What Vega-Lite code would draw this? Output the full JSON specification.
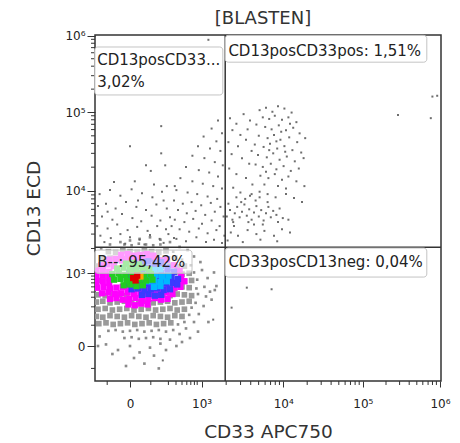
{
"$schema": "https://vega.github.io/schema/vega-lite/v6.json",
"width": 346, "height": 346,
"autosize": {"type": "none"},
"padding": {"left": 95, "top": 35, "right": 19, "bottom": 62},
"background": "white",
"title": {"text": "[BLASTEN]", "font": "DejaVu Sans", "fontSize": 18, "fontWeight": "normal", "color": "#333", "anchor": "middle", "baseline": "alphabetic", "offset": 9, "dx": -5, "dy": 21},
"config": {"view": {"stroke": "#333", "strokeWidth": 1.5}, "font": "DejaVu Sans"},
"datasets": {
"cells": [
{"cd33":-0.07,"cd13":0.10,"pop":"edge"},{"cd33":0.02,"cd13":0.11,"pop":"edge"},{"cd33":0.11,"cd13":0.09,"pop":"edge"},{"cd33":0.20,"cd13":0.10,"pop":"edge"},{"cd33":0.29,"cd13":0.11,"pop":"edge"},{"cd33":0.38,"cd13":0.09,"pop":"edge"},
{"cd33":-0.27,"cd13":0.19,"pop":"edge"},{"cd33":-0.18,"cd13":0.20,"pop":"edge"},{"cd33":-0.09,"cd13":0.18,"pop":"edge"},{"cd33":0.00,"cd13":0.19,"pop":"edge"},{"cd33":0.09,"cd13":0.20,"pop":"edge"},{"cd33":0.18,"cd13":0.18,"pop":"edge"},{"cd33":0.27,"cd13":0.19,"pop":"edge"},{"cd33":0.36,"cd13":0.20,"pop":"edge"},{"cd33":0.45,"cd13":0.18,"pop":"edge"},{"cd33":0.54,"cd13":0.20,"pop":"edge"},
{"cd33":-0.39,"cd13":0.28,"pop":"cloud"},{"cd33":-0.30,"cd13":0.29,"pop":"cloud"},{"cd33":-0.21,"cd13":0.27,"pop":"cloud"},{"cd33":-0.12,"cd13":0.28,"pop":"cloud"},{"cd33":-0.03,"cd13":0.29,"pop":"cloud"},{"cd33":0.06,"cd13":0.27,"pop":"cloud"},{"cd33":0.15,"cd13":0.28,"pop":"cloud"},{"cd33":0.24,"cd13":0.29,"pop":"cloud"},{"cd33":0.33,"cd13":0.27,"pop":"cloud"},{"cd33":0.42,"cd13":0.28,"pop":"cloud"},{"cd33":0.51,"cd13":0.29,"pop":"cloud"},{"cd33":0.60,"cd13":0.27,"pop":"edge"},{"cd33":0.68,"cd13":0.30,"pop":"edge"},
{"cd33":-0.42,"cd13":0.37,"pop":"cloud"},{"cd33":-0.34,"cd13":0.36,"pop":"cloud"},{"cd33":-0.25,"cd13":0.38,"pop":"cloud"},{"cd33":-0.16,"cd13":0.37,"pop":"cloud"},{"cd33":-0.07,"cd13":0.36,"pop":"cloud"},{"cd33":0.02,"cd13":0.38,"pop":"cloud"},{"cd33":0.11,"cd13":0.37,"pop":"cloud"},{"cd33":0.20,"cd13":0.36,"pop":"cloud"},{"cd33":0.29,"cd13":0.38,"pop":"cloud"},{"cd33":0.38,"cd13":0.37,"pop":"cloud"},{"cd33":0.47,"cd13":0.36,"pop":"cloud"},{"cd33":0.56,"cd13":0.38,"pop":"cloud"},{"cd33":0.65,"cd13":0.37,"pop":"cloud"},{"cd33":0.74,"cd13":0.39,"pop":"edge"},
{"cd33":-0.40,"cd13":0.46,"pop":"cloud"},{"cd33":-0.31,"cd13":0.47,"pop":"cloud"},{"cd33":-0.22,"cd13":0.45,"pop":"cloud"},{"cd33":-0.13,"cd13":0.46,"pop":"cloud"},{"cd33":-0.04,"cd13":0.47,"pop":"cloud"},{"cd33":0.05,"cd13":0.45,"pop":"cloud"},{"cd33":0.14,"cd13":0.46,"pop":"cloud"},{"cd33":0.23,"cd13":0.47,"pop":"cloud"},{"cd33":0.32,"cd13":0.45,"pop":"cloud"},{"cd33":0.41,"cd13":0.46,"pop":"cloud"},{"cd33":0.50,"cd13":0.47,"pop":"cloud"},{"cd33":0.59,"cd13":0.45,"pop":"cloud"},{"cd33":0.68,"cd13":0.46,"pop":"cloud"},{"cd33":0.77,"cd13":0.48,"pop":"edge"},
{"cd33":-0.42,"cd13":0.55,"pop":"cloud"},{"cd33":-0.34,"cd13":0.56,"pop":"cloud"},{"cd33":-0.25,"cd13":0.54,"pop":"cloud"},{"cd33":-0.16,"cd13":0.55,"pop":"cloud"},{"cd33":-0.07,"cd13":0.56,"pop":"cloud"},{"cd33":0.02,"cd13":0.54,"pop":"cloud"},{"cd33":0.11,"cd13":0.55,"pop":"cloud"},{"cd33":0.20,"cd13":0.56,"pop":"cloud"},{"cd33":0.29,"cd13":0.54,"pop":"cloud"},{"cd33":0.38,"cd13":0.55,"pop":"cloud"},{"cd33":0.47,"cd13":0.56,"pop":"cloud"},{"cd33":0.56,"cd13":0.54,"pop":"cloud"},{"cd33":0.65,"cd13":0.55,"pop":"cloud"},{"cd33":0.74,"cd13":0.56,"pop":"cloud"},{"cd33":0.82,"cd13":0.54,"pop":"edge"},
{"cd33":-0.40,"cd13":0.64,"pop":"cloud"},{"cd33":-0.31,"cd13":0.63,"pop":"cloud"},{"cd33":-0.22,"cd13":0.65,"pop":"cloud"},{"cd33":-0.13,"cd13":0.64,"pop":"cloud"},{"cd33":-0.04,"cd13":0.63,"pop":"cloud"},{"cd33":0.05,"cd13":0.65,"pop":"cloud"},{"cd33":0.14,"cd13":0.64,"pop":"cloud"},{"cd33":0.23,"cd13":0.63,"pop":"cloud"},{"cd33":0.32,"cd13":0.65,"pop":"cloud"},{"cd33":0.41,"cd13":0.64,"pop":"cloud"},{"cd33":0.50,"cd13":0.63,"pop":"cloud"},{"cd33":0.59,"cd13":0.65,"pop":"cloud"},{"cd33":0.68,"cd13":0.64,"pop":"cloud"},{"cd33":0.77,"cd13":0.63,"pop":"cloud"},{"cd33":0.85,"cd13":0.65,"pop":"edge"},
{"cd33":-0.42,"cd13":0.73,"pop":"cloud"},{"cd33":0.56,"cd13":0.72,"pop":"cloud"},{"cd33":0.65,"cd13":0.74,"pop":"cloud"},{"cd33":0.74,"cd13":0.73,"pop":"cloud"},{"cd33":0.83,"cd13":0.72,"pop":"edge"},
{"cd33":-0.40,"cd13":0.82,"pop":"cloud"},{"cd33":0.59,"cd13":0.83,"pop":"cloud"},{"cd33":0.68,"cd13":0.81,"pop":"cloud"},{"cd33":0.77,"cd13":0.82,"pop":"cloud"},{"cd33":0.84,"cd13":0.83,"pop":"edge"},
{"cd33":-0.42,"cd13":0.91,"pop":"cloud"},{"cd33":0.56,"cd13":0.92,"pop":"cloud"},{"cd33":0.65,"cd13":0.90,"pop":"cloud"},{"cd33":0.74,"cd13":0.91,"pop":"cloud"},{"cd33":0.80,"cd13":0.92,"pop":"edge"},
{"cd33":-0.40,"cd13":1.00,"pop":"cloud"},{"cd33":0.50,"cd13":1.01,"pop":"cloud"},{"cd33":0.59,"cd13":0.99,"pop":"cloud"},{"cd33":0.68,"cd13":1.00,"pop":"cloud"},{"cd33":0.76,"cd13":1.01,"pop":"edge"},
{"cd33":-0.34,"cd13":1.09,"pop":"cloud"},{"cd33":-0.25,"cd13":1.10,"pop":"cloud"},{"cd33":-0.16,"cd13":1.08,"pop":"cloud"},{"cd33":-0.07,"cd13":1.09,"pop":"cloud"},{"cd33":0.02,"cd13":1.10,"pop":"cloud"},{"cd33":0.11,"cd13":1.08,"pop":"cloud"},{"cd33":0.20,"cd13":1.09,"pop":"cloud"},{"cd33":0.29,"cd13":1.10,"pop":"cloud"},{"cd33":0.38,"cd13":1.08,"pop":"cloud"},{"cd33":0.47,"cd13":1.09,"pop":"cloud"},{"cd33":0.56,"cd13":1.10,"pop":"cloud"},{"cd33":0.65,"cd13":1.08,"pop":"edge"},
{"cd33":-0.27,"cd13":1.18,"pop":"cloud"},{"cd33":-0.18,"cd13":1.17,"pop":"cloud"},{"cd33":-0.09,"cd13":1.19,"pop":"cloud"},{"cd33":0.00,"cd13":1.18,"pop":"cloud"},{"cd33":0.09,"cd13":1.17,"pop":"cloud"},{"cd33":0.18,"cd13":1.19,"pop":"cloud"},{"cd33":0.27,"cd13":1.18,"pop":"cloud"},{"cd33":0.36,"cd13":1.17,"pop":"cloud"},{"cd33":0.45,"cd13":1.19,"pop":"cloud"},{"cd33":0.54,"cd13":1.18,"pop":"edge"},
{"cd33":-0.07,"cd13":1.27,"pop":"edge"},{"cd33":0.02,"cd13":1.26,"pop":"edge"},{"cd33":0.11,"cd13":1.28,"pop":"edge"},{"cd33":0.20,"cd13":1.27,"pop":"edge"},{"cd33":0.29,"cd13":1.26,"pop":"edge"},{"cd33":0.38,"cd13":1.27,"pop":"edge"},
{"cd33":-0.30,"cd13":0.02,"pop":"edge"},{"cd33":-0.15,"cd13":-0.05,"pop":"edge"},{"cd33":0.00,"cd13":0.00,"pop":"edge"},{"cd33":0.12,"cd13":-0.08,"pop":"edge"},{"cd33":0.25,"cd13":-0.02,"pop":"edge"},{"cd33":0.38,"cd13":0.03,"pop":"edge"},{"cd33":0.50,"cd13":0.08,"pop":"edge"},{"cd33":-0.38,"cd13":0.12,"pop":"edge"},{"cd33":0.62,"cd13":0.15,"pop":"edge"},{"cd33":0.70,"cd13":0.22,"pop":"edge"},{"cd33":0.80,"cd13":0.30,"pop":"edge"},{"cd33":0.86,"cd13":0.40,"pop":"edge"},{"cd33":0.92,"cd13":0.50,"pop":"edge"},{"cd33":0.95,"cd13":0.62,"pop":"edge"},{"cd33":0.93,"cd13":0.74,"pop":"edge"},{"cd33":0.97,"cd13":0.85,"pop":"edge"},{"cd33":0.90,"cd13":0.95,"pop":"edge"},{"cd33":0.88,"cd13":1.05,"pop":"edge"},{"cd33":0.80,"cd13":1.12,"pop":"edge"},{"cd33":0.72,"cd13":1.20,"pop":"edge"},{"cd33":0.62,"cd13":1.24,"pop":"edge"},{"cd33":0.50,"cd13":1.30,"pop":"edge"},{"cd33":0.38,"cd13":1.33,"pop":"edge"},{"cd33":0.25,"cd13":1.36,"pop":"edge"},{"cd33":0.12,"cd13":1.34,"pop":"edge"},{"cd33":0.00,"cd13":1.32,"pop":"edge"},{"cd33":-0.12,"cd13":1.30,"pop":"edge"},{"cd33":-0.25,"cd13":1.27,"pop":"edge"},{"cd33":-0.36,"cd13":1.22,"pop":"edge"},{"cd33":0.05,"cd13":-0.15,"pop":"edge"},{"cd33":0.30,"cd13":-0.12,"pop":"edge"},{"cd33":-0.22,"cd13":-0.10,"pop":"edge"},{"cd33":0.45,"cd13":-0.05,"pop":"edge"},{"cd33":0.58,"cd13":0.00,"pop":"edge"},{"cd33":0.75,"cd13":0.10,"pop":"edge"},{"cd33":1.02,"cd13":0.58,"pop":"edge"},{"cd33":1.05,"cd13":0.92,"pop":"edge"},{"cd33":0.98,"cd13":0.30,"pop":"edge"},{"cd33":0.65,"cd13":0.05,"pop":"edge"},{"cd33":-0.05,"cd13":-0.25,"pop":"edge"},{"cd33":0.18,"cd13":-0.22,"pop":"edge"},{"cd33":1.08,"cd13":0.75,"pop":"edge"},{"cd33":0.85,"cd13":0.18,"pop":"edge"},{"cd33":-0.40,"cd13":0.00,"pop":"edge"},{"cd33":0.36,"cd13":-0.28,"pop":"edge"},{"cd33":1.06,"cd13":0.70,"pop":"edge"},{"cd33":1.00,"cd13":0.68,"pop":"edge"},
{"cd33":-0.02,"cd13":0.52,"pop":"magenta"},{"cd33":0.06,"cd13":0.51,"pop":"magenta"},{"cd33":0.14,"cd13":0.53,"pop":"magenta"},{"cd33":0.22,"cd13":0.52,"pop":"magenta"},
{"cd33":-0.25,"cd13":0.59,"pop":"magenta"},{"cd33":-0.17,"cd13":0.60,"pop":"magenta"},{"cd33":-0.09,"cd13":0.58,"pop":"magenta"},{"cd33":-0.01,"cd13":0.59,"pop":"magenta"},{"cd33":0.07,"cd13":0.60,"pop":"magenta"},{"cd33":0.15,"cd13":0.58,"pop":"magenta"},{"cd33":0.23,"cd13":0.59,"pop":"magenta"},{"cd33":0.31,"cd13":0.60,"pop":"magenta"},{"cd33":0.39,"cd13":0.58,"pop":"magenta"},{"cd33":0.47,"cd13":0.59,"pop":"magenta"},
{"cd33":-0.35,"cd13":0.66,"pop":"magenta"},{"cd33":-0.27,"cd13":0.67,"pop":"magenta"},{"cd33":-0.19,"cd13":0.65,"pop":"magenta"},{"cd33":-0.11,"cd13":0.66,"pop":"magenta"},{"cd33":-0.03,"cd13":0.67,"pop":"magenta"},{"cd33":0.05,"cd13":0.65,"pop":"magenta"},{"cd33":0.13,"cd13":0.66,"pop":"magenta"},{"cd33":0.21,"cd13":0.67,"pop":"magenta"},{"cd33":0.29,"cd13":0.65,"pop":"magenta"},{"cd33":0.37,"cd13":0.66,"pop":"magenta"},{"cd33":0.45,"cd13":0.67,"pop":"magenta"},{"cd33":0.53,"cd13":0.65,"pop":"magenta"},
{"cd33":-0.41,"cd13":0.73,"pop":"magenta"},{"cd33":-0.33,"cd13":0.74,"pop":"magenta"},{"cd33":-0.25,"cd13":0.72,"pop":"magenta"},{"cd33":-0.17,"cd13":0.73,"pop":"magenta"},{"cd33":-0.09,"cd13":0.74,"pop":"magenta"},{"cd33":-0.01,"cd13":0.72,"pop":"magenta"},{"cd33":0.07,"cd13":0.73,"pop":"magenta"},{"cd33":0.15,"cd13":0.74,"pop":"magenta"},{"cd33":0.23,"cd13":0.72,"pop":"magenta"},{"cd33":0.31,"cd13":0.73,"pop":"magenta"},{"cd33":0.39,"cd13":0.74,"pop":"magenta"},{"cd33":0.47,"cd13":0.72,"pop":"magenta"},{"cd33":0.55,"cd13":0.73,"pop":"magenta"},{"cd33":0.63,"cd13":0.74,"pop":"magenta"},
{"cd33":-0.42,"cd13":0.80,"pop":"magenta"},{"cd33":-0.34,"cd13":0.81,"pop":"magenta"},{"cd33":-0.26,"cd13":0.79,"pop":"magenta"},{"cd33":0.62,"cd13":0.80,"pop":"magenta"},{"cd33":0.68,"cd13":0.81,"pop":"magenta"},
{"cd33":-0.42,"cd13":0.87,"pop":"magenta"},{"cd33":-0.34,"cd13":0.88,"pop":"magenta"},{"cd33":-0.26,"cd13":0.86,"pop":"magenta"},{"cd33":0.64,"cd13":0.87,"pop":"magenta"},
{"cd33":-0.42,"cd13":0.94,"pop":"magenta"},{"cd33":-0.34,"cd13":0.95,"pop":"magenta"},{"cd33":-0.26,"cd13":0.93,"pop":"magenta"},{"cd33":0.62,"cd13":0.94,"pop":"magenta"},
{"cd33":-0.36,"cd13":1.01,"pop":"magenta"},{"cd33":-0.28,"cd13":1.02,"pop":"magenta"},{"cd33":-0.20,"cd13":1.00,"pop":"magenta"},{"cd33":0.55,"cd13":1.01,"pop":"magenta"},
{"cd33":-0.26,"cd13":1.08,"pop":"magenta"},{"cd33":-0.18,"cd13":1.09,"pop":"magenta"},{"cd33":-0.10,"cd13":1.07,"pop":"magenta"},{"cd33":-0.02,"cd13":1.08,"pop":"magenta"},{"cd33":0.06,"cd13":1.09,"pop":"magenta"},{"cd33":0.14,"cd13":1.07,"pop":"magenta"},{"cd33":0.22,"cd13":1.08,"pop":"magenta"},{"cd33":0.30,"cd13":1.09,"pop":"magenta"},{"cd33":0.38,"cd13":1.07,"pop":"magenta"},{"cd33":0.46,"cd13":1.08,"pop":"magenta"},
{"cd33":-0.11,"cd13":1.14,"pop":"magenta"},{"cd33":-0.03,"cd13":1.15,"pop":"magenta"},{"cd33":0.05,"cd13":1.13,"pop":"magenta"},{"cd33":0.13,"cd13":1.14,"pop":"magenta"},{"cd33":0.21,"cd13":1.15,"pop":"magenta"},{"cd33":0.29,"cd13":1.13,"pop":"magenta"},
{"cd33":0.15,"cd13":0.64,"pop":"blue"},{"cd33":0.23,"cd13":0.65,"pop":"blue"},{"cd33":0.31,"cd13":0.63,"pop":"blue"},{"cd33":0.39,"cd13":0.64,"pop":"blue"},
{"cd33":0.02,"cd13":0.71,"pop":"blue"},{"cd33":0.10,"cd13":0.72,"pop":"blue"},{"cd33":0.18,"cd13":0.70,"pop":"blue"},{"cd33":0.26,"cd13":0.71,"pop":"blue"},{"cd33":0.34,"cd13":0.72,"pop":"blue"},{"cd33":0.42,"cd13":0.70,"pop":"blue"},{"cd33":0.50,"cd13":0.71,"pop":"blue"},
{"cd33":-0.03,"cd13":0.78,"pop":"blue"},{"cd33":0.05,"cd13":0.79,"pop":"blue"},{"cd33":0.13,"cd13":0.77,"pop":"blue"},{"cd33":0.21,"cd13":0.78,"pop":"blue"},{"cd33":0.29,"cd13":0.79,"pop":"blue"},{"cd33":0.37,"cd13":0.77,"pop":"blue"},{"cd33":0.45,"cd13":0.78,"pop":"blue"},{"cd33":0.53,"cd13":0.79,"pop":"blue"},{"cd33":0.59,"cd13":0.77,"pop":"blue"},
{"cd33":-0.04,"cd13":0.85,"pop":"blue"},{"cd33":0.04,"cd13":0.86,"pop":"blue"},{"cd33":0.12,"cd13":0.84,"pop":"blue"},{"cd33":0.20,"cd13":0.85,"pop":"blue"},{"cd33":0.28,"cd13":0.86,"pop":"blue"},{"cd33":0.36,"cd13":0.84,"pop":"blue"},{"cd33":0.44,"cd13":0.85,"pop":"blue"},{"cd33":0.52,"cd13":0.86,"pop":"blue"},{"cd33":0.60,"cd13":0.84,"pop":"blue"},
{"cd33":-0.01,"cd13":0.92,"pop":"blue"},{"cd33":0.07,"cd13":0.93,"pop":"blue"},{"cd33":0.15,"cd13":0.91,"pop":"blue"},{"cd33":0.23,"cd13":0.92,"pop":"blue"},{"cd33":0.31,"cd13":0.93,"pop":"blue"},{"cd33":0.39,"cd13":0.91,"pop":"blue"},{"cd33":0.47,"cd13":0.92,"pop":"blue"},{"cd33":0.55,"cd13":0.93,"pop":"blue"},
{"cd33":0.07,"cd13":0.99,"pop":"blue"},{"cd33":0.15,"cd13":1.00,"pop":"blue"},{"cd33":0.23,"cd13":0.98,"pop":"blue"},{"cd33":0.31,"cd13":0.99,"pop":"blue"},{"cd33":0.39,"cd13":1.00,"pop":"blue"},{"cd33":0.47,"cd13":0.98,"pop":"blue"},
{"cd33":0.15,"cd13":1.05,"pop":"blue"},{"cd33":0.23,"cd13":1.06,"pop":"blue"},{"cd33":0.31,"cd13":1.04,"pop":"blue"},{"cd33":0.39,"cd13":1.05,"pop":"blue"},
{"cd33":0.30,"cd13":0.74,"pop":"cyan"},{"cd33":0.38,"cd13":0.75,"pop":"cyan"},
{"cd33":0.22,"cd13":0.81,"pop":"cyan"},{"cd33":0.30,"cd13":0.82,"pop":"cyan"},{"cd33":0.38,"cd13":0.80,"pop":"cyan"},{"cd33":0.46,"cd13":0.81,"pop":"cyan"},
{"cd33":0.24,"cd13":0.88,"pop":"cyan"},{"cd33":0.32,"cd13":0.89,"pop":"cyan"},{"cd33":0.40,"cd13":0.87,"pop":"cyan"},{"cd33":0.48,"cd13":0.88,"pop":"cyan"},
{"cd33":0.30,"cd13":0.95,"pop":"cyan"},{"cd33":0.38,"cd13":0.96,"pop":"cyan"},
{"cd33":-0.08,"cd13":0.76,"pop":"green"},{"cd33":0.00,"cd13":0.77,"pop":"green"},{"cd33":0.08,"cd13":0.75,"pop":"green"},{"cd33":0.16,"cd13":0.76,"pop":"green"},
{"cd33":-0.20,"cd13":0.83,"pop":"green"},{"cd33":-0.12,"cd13":0.84,"pop":"green"},{"cd33":-0.04,"cd13":0.82,"pop":"green"},{"cd33":0.04,"cd13":0.83,"pop":"green"},{"cd33":0.12,"cd13":0.84,"pop":"green"},{"cd33":0.20,"cd13":0.82,"pop":"green"},{"cd33":0.28,"cd13":0.83,"pop":"green"},
{"cd33":-0.22,"cd13":0.90,"pop":"green"},{"cd33":-0.14,"cd13":0.91,"pop":"green"},{"cd33":-0.06,"cd13":0.89,"pop":"green"},{"cd33":0.02,"cd13":0.90,"pop":"green"},{"cd33":0.10,"cd13":0.91,"pop":"green"},{"cd33":0.18,"cd13":0.89,"pop":"green"},{"cd33":0.26,"cd13":0.90,"pop":"green"},
{"cd33":-0.16,"cd13":0.97,"pop":"green"},{"cd33":-0.08,"cd13":0.98,"pop":"green"},{"cd33":0.00,"cd13":0.96,"pop":"green"},{"cd33":0.08,"cd13":0.97,"pop":"green"},{"cd33":0.16,"cd13":0.98,"pop":"green"},{"cd33":0.24,"cd13":0.96,"pop":"green"},
{"cd33":-0.05,"cd13":1.03,"pop":"green"},{"cd33":0.03,"cd13":1.04,"pop":"green"},{"cd33":0.11,"cd13":1.02,"pop":"green"},
{"cd33":0.13,"cd13":0.87,"pop":"yellow"},
{"cd33":0.04,"cd13":0.85,"pop":"red"},{"cd33":0.09,"cd13":0.88,"pop":"red"},{"cd33":0.07,"cd13":0.82,"pop":"red"},
{"cd33":1.62,"cd13":2.95,"pop":"sparse"},{"cd33":1.70,"cd13":2.98,"pop":"sparse"},{"cd33":1.78,"cd13":2.93,"pop":"sparse"},{"cd33":1.85,"cd13":3.00,"pop":"sparse"},{"cd33":1.93,"cd13":2.97,"pop":"sparse"},{"cd33":2.02,"cd13":2.92,"pop":"sparse"},{"cd33":1.66,"cd13":2.86,"pop":"sparse"},{"cd33":1.74,"cd13":2.84,"pop":"sparse"},{"cd33":1.81,"cd13":2.88,"pop":"sparse"},{"cd33":1.90,"cd13":2.83,"pop":"sparse"},{"cd33":1.98,"cd13":2.86,"pop":"sparse"},{"cd33":2.08,"cd13":2.80,"pop":"sparse"},{"cd33":1.58,"cd13":2.77,"pop":"sparse"},{"cd33":1.69,"cd13":2.74,"pop":"sparse"},{"cd33":1.77,"cd13":2.71,"pop":"sparse"},{"cd33":1.86,"cd13":2.76,"pop":"sparse"},{"cd33":1.95,"cd13":2.70,"pop":"sparse"},{"cd33":2.04,"cd13":2.73,"pop":"sparse"},{"cd33":2.12,"cd13":2.66,"pop":"sparse"},{"cd33":1.61,"cd13":2.63,"pop":"sparse"},{"cd33":1.72,"cd13":2.60,"pop":"sparse"},{"cd33":1.80,"cd13":2.64,"pop":"sparse"},{"cd33":1.88,"cd13":2.58,"pop":"sparse"},{"cd33":1.99,"cd13":2.61,"pop":"sparse"},{"cd33":2.09,"cd13":2.55,"pop":"sparse"},{"cd33":1.56,"cd13":2.52,"pop":"sparse"},{"cd33":1.67,"cd13":2.49,"pop":"sparse"},{"cd33":1.75,"cd13":2.53,"pop":"sparse"},{"cd33":1.84,"cd13":2.47,"pop":"sparse"},{"cd33":1.93,"cd13":2.50,"pop":"sparse"},{"cd33":2.03,"cd13":2.45,"pop":"sparse"},{"cd33":2.14,"cd13":2.42,"pop":"sparse"},{"cd33":1.60,"cd13":2.39,"pop":"sparse"},{"cd33":1.71,"cd13":2.36,"pop":"sparse"},{"cd33":1.79,"cd13":2.41,"pop":"sparse"},{"cd33":1.87,"cd13":2.33,"pop":"sparse"},{"cd33":1.96,"cd13":2.37,"pop":"sparse"},{"cd33":2.06,"cd13":2.31,"pop":"sparse"},{"cd33":1.57,"cd13":2.27,"pop":"sparse"},{"cd33":1.66,"cd13":2.24,"pop":"sparse"},{"cd33":1.76,"cd13":2.28,"pop":"sparse"},{"cd33":1.83,"cd13":2.21,"pop":"sparse"},{"cd33":1.92,"cd13":2.25,"pop":"sparse"},{"cd33":2.01,"cd13":2.19,"pop":"sparse"},{"cd33":2.11,"cd13":2.22,"pop":"sparse"},{"cd33":1.63,"cd13":2.13,"pop":"sparse"},{"cd33":1.73,"cd13":2.10,"pop":"sparse"},{"cd33":1.81,"cd13":2.15,"pop":"sparse"},{"cd33":1.90,"cd13":2.08,"pop":"sparse"},{"cd33":1.98,"cd13":2.12,"pop":"sparse"},{"cd33":2.08,"cd13":2.06,"pop":"sparse"},{"cd33":1.68,"cd13":2.02,"pop":"sparse"},{"cd33":1.85,"cd13":2.00,"pop":"sparse"},{"cd33":1.95,"cd13":1.97,"pop":"sparse"},{"cd33":1.74,"cd13":2.45,"pop":"sparse"},{"cd33":1.89,"cd13":2.68,"pop":"sparse"},{"cd33":2.00,"cd13":2.78,"pop":"sparse"},{"cd33":1.83,"cd13":2.56,"pop":"sparse"},{"cd33":1.94,"cd13":2.43,"pop":"sparse"},{"cd33":1.70,"cd13":2.18,"pop":"sparse"},
{"cd33":1.25,"cd13":2.85,"pop":"sparse"},{"cd33":1.33,"cd13":2.78,"pop":"sparse"},{"cd33":1.42,"cd13":2.90,"pop":"sparse"},{"cd33":1.50,"cd13":2.82,"pop":"sparse"},{"cd33":1.28,"cd13":2.70,"pop":"sparse"},{"cd33":1.38,"cd13":2.64,"pop":"sparse"},{"cd33":1.47,"cd13":2.71,"pop":"sparse"},{"cd33":1.23,"cd13":2.55,"pop":"sparse"},{"cd33":1.35,"cd13":2.50,"pop":"sparse"},{"cd33":1.45,"cd13":2.58,"pop":"sparse"},{"cd33":1.52,"cd13":2.44,"pop":"sparse"},{"cd33":1.27,"cd13":2.40,"pop":"sparse"},{"cd33":1.40,"cd13":2.35,"pop":"sparse"},{"cd33":1.49,"cd13":2.28,"pop":"sparse"},{"cd33":1.24,"cd13":2.22,"pop":"sparse"},{"cd33":1.33,"cd13":2.15,"pop":"sparse"},{"cd33":1.45,"cd13":2.10,"pop":"sparse"},{"cd33":1.53,"cd13":2.02,"pop":"sparse"},{"cd33":1.29,"cd13":1.98,"pop":"sparse"},{"cd33":1.38,"cd13":1.92,"pop":"sparse"},{"cd33":1.50,"cd13":1.88,"pop":"sparse"},{"cd33":1.62,"cd13":1.93,"pop":"sparse"},{"cd33":1.72,"cd13":1.90,"pop":"sparse"},{"cd33":1.82,"cd13":1.86,"pop":"sparse"},{"cd33":1.95,"cd13":1.90,"pop":"sparse"},{"cd33":2.05,"cd13":1.85,"pop":"sparse"},{"cd33":2.15,"cd13":1.80,"pop":"sparse"},{"cd33":2.18,"cd13":2.00,"pop":"sparse"},{"cd33":2.17,"cd13":2.35,"pop":"sparse"},{"cd33":2.19,"cd13":2.60,"pop":"sparse"},{"cd33":1.26,"cd13":1.42,"pop":"sparse"},{"cd33":1.35,"cd13":1.38,"pop":"sparse"},{"cd33":1.47,"cd13":1.45,"pop":"sparse"},{"cd33":1.58,"cd13":1.40,"pop":"sparse"},{"cd33":1.68,"cd13":1.44,"pop":"sparse"},{"cd33":1.80,"cd13":1.38,"pop":"sparse"},{"cd33":1.90,"cd13":1.46,"pop":"sparse"},{"cd33":2.00,"cd13":1.42,"pop":"sparse"},{"cd33":1.22,"cd13":1.32,"pop":"sparse"},{"cd33":1.41,"cd13":1.30,"pop":"sparse"},{"cd33":1.63,"cd13":1.33,"pop":"sparse"},{"cd33":1.84,"cd13":1.31,"pop":"sparse"},{"cd33":1.30,"cd13":1.50,"pop":"sparse"},{"cd33":1.55,"cd13":1.52,"pop":"sparse"},{"cd33":1.98,"cd13":1.58,"pop":"sparse"},
{"cd33":1.21,"cd13":1.62,"pop":"sparse"},{"cd33":1.25,"cd13":1.70,"pop":"sparse"},{"cd33":1.28,"cd13":1.58,"pop":"sparse"},{"cd33":1.31,"cd13":1.66,"pop":"sparse"},{"cd33":1.34,"cd13":1.74,"pop":"sparse"},{"cd33":1.37,"cd13":1.61,"pop":"sparse"},{"cd33":1.40,"cd13":1.68,"pop":"sparse"},{"cd33":1.43,"cd13":1.77,"pop":"sparse"},{"cd33":1.46,"cd13":1.63,"pop":"sparse"},{"cd33":1.49,"cd13":1.71,"pop":"sparse"},{"cd33":1.52,"cd13":1.58,"pop":"sparse"},{"cd33":1.55,"cd13":1.67,"pop":"sparse"},{"cd33":1.58,"cd13":1.75,"pop":"sparse"},{"cd33":1.61,"cd13":1.62,"pop":"sparse"},{"cd33":1.64,"cd13":1.70,"pop":"sparse"},{"cd33":1.67,"cd13":1.57,"pop":"sparse"},{"cd33":1.70,"cd13":1.66,"pop":"sparse"},{"cd33":1.73,"cd13":1.74,"pop":"sparse"},{"cd33":1.76,"cd13":1.61,"pop":"sparse"},{"cd33":1.79,"cd13":1.69,"pop":"sparse"},{"cd33":1.83,"cd13":1.64,"pop":"sparse"},{"cd33":1.87,"cd13":1.72,"pop":"sparse"},{"cd33":1.91,"cd13":1.60,"pop":"sparse"},{"cd33":1.23,"cd13":1.78,"pop":"sparse"},{"cd33":1.39,"cd13":1.80,"pop":"sparse"},{"cd33":1.57,"cd13":1.82,"pop":"sparse"},{"cd33":1.72,"cd13":1.80,"pop":"sparse"},{"cd33":1.29,"cd13":1.55,"pop":"sparse"},{"cd33":1.48,"cd13":1.55,"pop":"sparse"},{"cd33":1.66,"cd13":1.52,"pop":"sparse"},{"cd33":1.85,"cd13":1.55,"pop":"sparse"},{"cd33":1.33,"cd13":1.86,"pop":"sparse"},{"cd33":1.52,"cd13":1.90,"pop":"sparse"},{"cd33":1.44,"cd13":1.84,"pop":"sparse"},{"cd33":1.62,"cd13":1.86,"pop":"sparse"},
{"cd33":1.10,"cd13":2.82,"pop":"sparse"},{"cd33":1.02,"cd13":2.72,"pop":"sparse"},{"cd33":1.15,"cd13":2.66,"pop":"sparse"},{"cd33":0.92,"cd13":2.62,"pop":"sparse"},{"cd33":1.08,"cd13":2.56,"pop":"sparse"},{"cd33":0.85,"cd13":2.50,"pop":"sparse"},{"cd33":1.00,"cd13":2.47,"pop":"sparse"},{"cd33":1.13,"cd13":2.44,"pop":"sparse"},{"cd33":0.78,"cd13":2.38,"pop":"sparse"},{"cd33":0.93,"cd13":2.35,"pop":"sparse"},{"cd33":1.06,"cd13":2.30,"pop":"sparse"},{"cd33":1.16,"cd13":2.26,"pop":"sparse"},{"cd33":0.70,"cd13":2.24,"pop":"sparse"},{"cd33":0.86,"cd13":2.20,"pop":"sparse"},{"cd33":0.99,"cd13":2.17,"pop":"sparse"},{"cd33":1.10,"cd13":2.12,"pop":"sparse"},{"cd33":0.63,"cd13":2.10,"pop":"sparse"},{"cd33":0.78,"cd13":2.06,"pop":"sparse"},{"cd33":0.91,"cd13":2.03,"pop":"sparse"},{"cd33":1.04,"cd13":2.00,"pop":"sparse"},{"cd33":1.15,"cd13":1.97,"pop":"sparse"},{"cd33":0.58,"cd13":1.95,"pop":"sparse"},{"cd33":0.72,"cd13":1.92,"pop":"sparse"},{"cd33":0.84,"cd13":1.90,"pop":"sparse"},{"cd33":0.97,"cd13":1.87,"pop":"sparse"},{"cd33":1.09,"cd13":1.84,"pop":"sparse"},
{"cd33":0.55,"cd13":1.82,"pop":"sparse"},{"cd33":0.66,"cd13":1.78,"pop":"sparse"},{"cd33":0.77,"cd13":1.80,"pop":"sparse"},{"cd33":0.89,"cd13":1.76,"pop":"sparse"},{"cd33":1.01,"cd13":1.79,"pop":"sparse"},{"cd33":1.13,"cd13":1.74,"pop":"sparse"},{"cd33":0.60,"cd13":1.70,"pop":"sparse"},{"cd33":0.71,"cd13":1.66,"pop":"sparse"},{"cd33":0.82,"cd13":1.69,"pop":"sparse"},{"cd33":0.94,"cd13":1.64,"pop":"sparse"},{"cd33":1.06,"cd13":1.68,"pop":"sparse"},{"cd33":1.17,"cd13":1.62,"pop":"sparse"},{"cd33":0.56,"cd13":1.58,"pop":"sparse"},{"cd33":0.68,"cd13":1.55,"pop":"sparse"},{"cd33":0.79,"cd13":1.59,"pop":"sparse"},{"cd33":0.90,"cd13":1.53,"pop":"sparse"},{"cd33":1.02,"cd13":1.57,"pop":"sparse"},{"cd33":1.12,"cd13":1.50,"pop":"sparse"},{"cd33":0.62,"cd13":1.46,"pop":"sparse"},{"cd33":0.74,"cd13":1.43,"pop":"sparse"},{"cd33":0.86,"cd13":1.47,"pop":"sparse"},{"cd33":0.97,"cd13":1.41,"pop":"sparse"},{"cd33":1.08,"cd13":1.45,"pop":"sparse"},{"cd33":1.18,"cd13":1.38,"pop":"sparse"},{"cd33":0.58,"cd13":1.34,"pop":"sparse"},{"cd33":0.70,"cd13":1.31,"pop":"sparse"},{"cd33":0.83,"cd13":1.36,"pop":"sparse"},{"cd33":0.95,"cd13":1.30,"pop":"sparse"},{"cd33":1.05,"cd13":1.33,"pop":"sparse"},{"cd33":1.15,"cd13":1.29,"pop":"sparse"},
{"cd33":-0.38,"cd13":1.90,"pop":"sparse"},{"cd33":-0.25,"cd13":1.95,"pop":"sparse"},{"cd33":-0.12,"cd13":1.88,"pop":"sparse"},{"cd33":0.02,"cd13":1.96,"pop":"sparse"},{"cd33":0.15,"cd13":1.91,"pop":"sparse"},{"cd33":0.28,"cd13":1.86,"pop":"sparse"},{"cd33":0.40,"cd13":1.93,"pop":"sparse"},{"cd33":-0.40,"cd13":1.75,"pop":"sparse"},{"cd33":-0.30,"cd13":1.78,"pop":"sparse"},{"cd33":-0.18,"cd13":1.72,"pop":"sparse"},{"cd33":-0.05,"cd13":1.80,"pop":"sparse"},{"cd33":0.08,"cd13":1.74,"pop":"sparse"},{"cd33":0.20,"cd13":1.70,"pop":"sparse"},{"cd33":0.33,"cd13":1.77,"pop":"sparse"},{"cd33":0.46,"cd13":1.72,"pop":"sparse"},{"cd33":-0.35,"cd13":1.62,"pop":"sparse"},{"cd33":-0.22,"cd13":1.58,"pop":"sparse"},{"cd33":-0.10,"cd13":1.65,"pop":"sparse"},{"cd33":0.03,"cd13":1.60,"pop":"sparse"},{"cd33":0.14,"cd13":1.56,"pop":"sparse"},{"cd33":0.27,"cd13":1.63,"pop":"sparse"},{"cd33":0.38,"cd13":1.57,"pop":"sparse"},{"cd33":0.50,"cd13":1.61,"pop":"sparse"},{"cd33":-0.41,"cd13":1.50,"pop":"sparse"},{"cd33":-0.28,"cd13":1.47,"pop":"sparse"},{"cd33":-0.16,"cd13":1.52,"pop":"sparse"},{"cd33":-0.03,"cd13":1.45,"pop":"sparse"},{"cd33":0.09,"cd13":1.49,"pop":"sparse"},{"cd33":0.22,"cd13":1.44,"pop":"sparse"},{"cd33":0.34,"cd13":1.50,"pop":"sparse"},{"cd33":0.45,"cd13":1.46,"pop":"sparse"},{"cd33":-0.37,"cd13":1.38,"pop":"sparse"},{"cd33":-0.24,"cd13":1.35,"pop":"sparse"},{"cd33":-0.12,"cd13":1.40,"pop":"sparse"},{"cd33":0.00,"cd13":1.36,"pop":"sparse"},{"cd33":0.12,"cd13":1.33,"pop":"sparse"},{"cd33":0.25,"cd13":1.39,"pop":"sparse"},{"cd33":0.37,"cd13":1.34,"pop":"sparse"},{"cd33":0.48,"cd13":1.40,"pop":"sparse"},{"cd33":-0.32,"cd13":1.30,"pop":"sparse"},{"cd33":-0.06,"cd13":1.28,"pop":"sparse"},{"cd33":0.18,"cd13":1.27,"pop":"sparse"},{"cd33":0.42,"cd13":1.29,"pop":"sparse"},{"cd33":-0.20,"cd13":2.05,"pop":"sparse"},{"cd33":0.30,"cd13":2.02,"pop":"sparse"},{"cd33":0.10,"cd13":1.82,"pop":"sparse"},{"cd33":-0.28,"cd13":1.68,"pop":"sparse"},{"cd33":0.42,"cd13":1.82,"pop":"sparse"},{"cd33":0.52,"cd13":1.50,"pop":"sparse"},{"cd33":0.55,"cd13":1.35,"pop":"sparse"},
{"cd33":0.39,"cd13":2.75,"pop":"sparse"},{"cd33":0.00,"cd13":2.50,"pop":"sparse"},{"cd33":0.39,"cd13":2.41,"pop":"sparse"},{"cd33":0.06,"cd13":2.06,"pop":"sparse"},{"cd33":0.20,"cd13":2.26,"pop":"sparse"},{"cd33":0.26,"cd13":2.19,"pop":"sparse"},{"cd33":0.44,"cd13":2.26,"pop":"sparse"},{"cd33":0.46,"cd13":2.00,"pop":"sparse"},{"cd33":0.56,"cd13":2.00,"pop":"sparse"},{"cd33":3.35,"cd13":2.89,"pop":"sparse"},{"cd33":3.76,"cd13":2.85,"pop":"sparse"},{"cd33":3.78,"cd13":3.12,"pop":"sparse"},{"cd33":3.84,"cd13":3.13,"pop":"sparse"},{"cd33":0.98,"cd13":3.83,"pop":"sparse"},{"cd33":1.46,"cd13":0.73,"pop":"sparse"},{"cd33":1.77,"cd13":0.71,"pop":"sparse"},{"cd33":1.27,"cd13":0.48,"pop":"sparse"},{"cd33":1.04,"cd13":0.33,"pop":"sparse"},{"cd33":0.41,"cd13":-0.18,"pop":"sparse"}
],
"gates": [{"gate_cd33": 1.19, "gate_cd13": 1.235}],
"minor_x": [{"v":-0.285},{"v":0.26},{"v":0.48},{"v":0.575},{"v":0.65},{"v":0.71},{"v":0.76},{"v":0.805},{"v":0.84},{"v":1.202},{"v":1.382},{"v":1.509},{"v":1.608},{"v":1.689},{"v":1.757},{"v":1.816},{"v":1.868},{"v":2.215},{"v":2.39},{"v":2.514},{"v":2.61},{"v":2.689},{"v":2.756},{"v":2.814},{"v":2.865},{"v":3.2},{"v":3.37},{"v":3.49},{"v":3.585},{"v":3.66},{"v":3.726},{"v":3.781},{"v":3.83}],
"minor_y": [{"v":-0.28},{"v":0.26},{"v":0.49},{"v":0.61},{"v":0.675},{"v":0.74},{"v":0.79},{"v":0.834},{"v":0.875},{"v":1.22},{"v":1.40},{"v":1.53},{"v":1.63},{"v":1.71},{"v":1.78},{"v":1.84},{"v":1.89},{"v":2.237},{"v":2.41},{"v":2.534},{"v":2.629},{"v":2.707},{"v":2.773},{"v":2.83},{"v":2.88},{"v":3.213},{"v":3.381},{"v":3.5},{"v":3.593},{"v":3.668},{"v":3.732},{"v":3.787},{"v":3.836}],
"labels": [
{"name":"Q1","x1":-0.44,"x2":1.16,"y1":3.74,"y2":3.14,"tx":-0.41,"ty":3.5125,"txt":["CD13posCD33...","3,02%"]},
{"name":"Q2","x1":1.19,"x2":3.71,"y1":3.885,"y2":3.55,"tx":1.23,"ty":3.625,"txt":["CD13posCD33pos: 1,51%"]},
{"name":"B--","x1":-0.44,"x2":0.775,"y1":1.2,"y2":0.91,"tx":-0.41,"ty":0.9875,"txt":["B--: 95,42%"]},
{"name":"Q4","x1":1.19,"x2":3.71,"y1":1.225,"y2":0.8625,"tx":1.23,"ty":0.9875,"txt":["CD33posCD13neg: 0,04%"]}
]
},
"layer": [
{
"data": {"name": "cells"},
"transform": [{"filter": "datum.pop == 'cloud'"}],
"mark": {"type": "point", "shape": "square", "filled": true, "opacity": 1, "strokeWidth": 0, "clip": true, "size": 32, "color": "#9a9a9a"},
"encoding": {
"x": {"field": "cd33", "type": "quantitative",
 "scale": {"domain": [-0.4375, 3.8875], "nice": false, "zero": false},
 "axis": {"title": "CD33 APC750", "titleFont": "DejaVu Sans", "titleFontSize": 18.5, "titleFontWeight": "normal", "titleColor": "#333", "titleX": 173, "titleY": 56, "titleBaseline": "alphabetic", "titleAnchor": null,
  "values": [0, 0.895, 1.915, 2.91, 3.875],
  "labelExpr": "datum.value == 0 ? '0' : datum.value < 1 ? '10³' : datum.value < 2 ? '10⁴' : datum.value < 3 ? '10⁵' : '10⁶'",
  "labelOverlap": false, "labelFlush": false, "labelBound": false, "labelFont": "DejaVu Sans", "labelFontSize": 12, "labelColor": "#222", "labelPadding": 11,
  "tickSize": 6, "tickColor": "#333", "tickWidth": 1, "domain": false, "grid": false}},
"y": {"field": "cd13", "type": "quantitative",
 "scale": {"domain": [-0.4375, 3.89], "nice": false, "zero": false},
 "axis": {"title": "CD13 ECD", "titleFont": "DejaVu Sans", "titleFontSize": 18.5, "titleFontWeight": "normal", "titleColor": "#333", "titleX": -62, "titleY": 173, "titleBaseline": "middle", "titleAngle": -90, "titleAlign": "center", "titleAnchor": null,
  "values": [0, 0.91, 1.94, 2.925, 3.88],
  "labelExpr": "datum.value == 0 ? '0' : datum.value < 1 ? '10³' : datum.value < 2 ? '10⁴' : datum.value < 3 ? '10⁵' : '10⁶'",
  "labelOverlap": false, "labelFlush": false, "labelBound": false, "labelFont": "DejaVu Sans", "labelFontSize": 12, "labelColor": "#222", "labelPadding": 2,
  "tickSize": 8, "tickColor": "#333", "tickWidth": 1, "domain": false, "grid": false}}
}
},
{
"data": {"name": "cells"},
"transform": [{"filter": "datum.pop == 'edge'"}],
"mark": {"type": "point", "shape": "square", "filled": true, "opacity": 1, "strokeWidth": 0, "clip": true, "size": 7, "color": "#8a8a8a"},
"encoding": {
"x": {"field": "cd33", "type": "quantitative"},
"y": {"field": "cd13", "type": "quantitative"}
}
},
{
"data": {"name": "cells"},
"transform": [{"filter": "datum.pop == 'sparse'"}],
"mark": {"type": "point", "shape": "square", "filled": true, "opacity": 0.9, "strokeWidth": 0, "clip": true, "size": 4, "color": "#5e5e5e"},
"encoding": {
"x": {"field": "cd33", "type": "quantitative"},
"y": {"field": "cd13", "type": "quantitative"}
}
},
{
"data": {"name": "cells"},
"transform": [{"filter": "indexof(['magenta','blue','cyan','green','yellow','red'], datum.pop) >= 0"}],
"mark": {"type": "point", "shape": "square", "filled": true, "opacity": 1, "strokeWidth": 0, "clip": true, "size": 40},
"encoding": {
"x": {"field": "cd33", "type": "quantitative"},
"y": {"field": "cd13", "type": "quantitative"},
"color": {"field": "pop", "type": "nominal", "legend": null,
 "scale": {"domain": ["magenta","blue","cyan","green","yellow","red"],
  "range": ["#ff00ff","#3a3aff","#00b8ff","#22cc22","#ffa000","#e00000"]}}
}
},
{
"data": {"name": "minor_x"},
"mark": {"type": "rule", "color": "#333", "strokeWidth": 1, "clip": false},
"encoding": {
"x": {"field": "v", "type": "quantitative"},
"y": {"datum": -0.4375, "type": "quantitative"},
"y2": {"datum": -0.4875}
}
},
{
"data": {"name": "minor_y"},
"mark": {"type": "rule", "color": "#333", "strokeWidth": 1, "clip": false},
"encoding": {
"y": {"field": "v", "type": "quantitative"},
"x": {"datum": -0.4375, "type": "quantitative"},
"x2": {"datum": -0.4875}
}
},
{
"data": {"name": "gates"},
"mark": {"type": "rule", "color": "#333", "strokeWidth": 1.5},
"encoding": {"x": {"field": "gate_cd33", "type": "quantitative"}}
},
{
"data": {"name": "gates"},
"mark": {"type": "rule", "color": "#333", "strokeWidth": 1.5},
"encoding": {"y": {"field": "gate_cd13", "type": "quantitative"}}
},
{
"data": {"name": "labels"},
"mark": {"type": "rect", "fill": "white", "stroke": "#c4c4c4", "strokeWidth": 1, "cornerRadius": 3},
"encoding": {
"x": {"field": "x1", "type": "quantitative"}, "x2": {"field": "x2"},
"y": {"field": "y1", "type": "quantitative"}, "y2": {"field": "y2"},
"fillOpacity": {"condition": {"test": "datum.name == 'B--'", "value": 0.6}, "value": 0.95}
}
},
{
"data": {"name": "labels"},
"mark": {"type": "text", "align": "left", "baseline": "alphabetic", "font": "DejaVu Sans", "fontSize": 15, "color": "#222", "lineHeight": 22},
"encoding": {
"x": {"field": "tx", "type": "quantitative"},
"y": {"field": "ty", "type": "quantitative"},
"text": {"field": "txt"}
}
}
]
}
